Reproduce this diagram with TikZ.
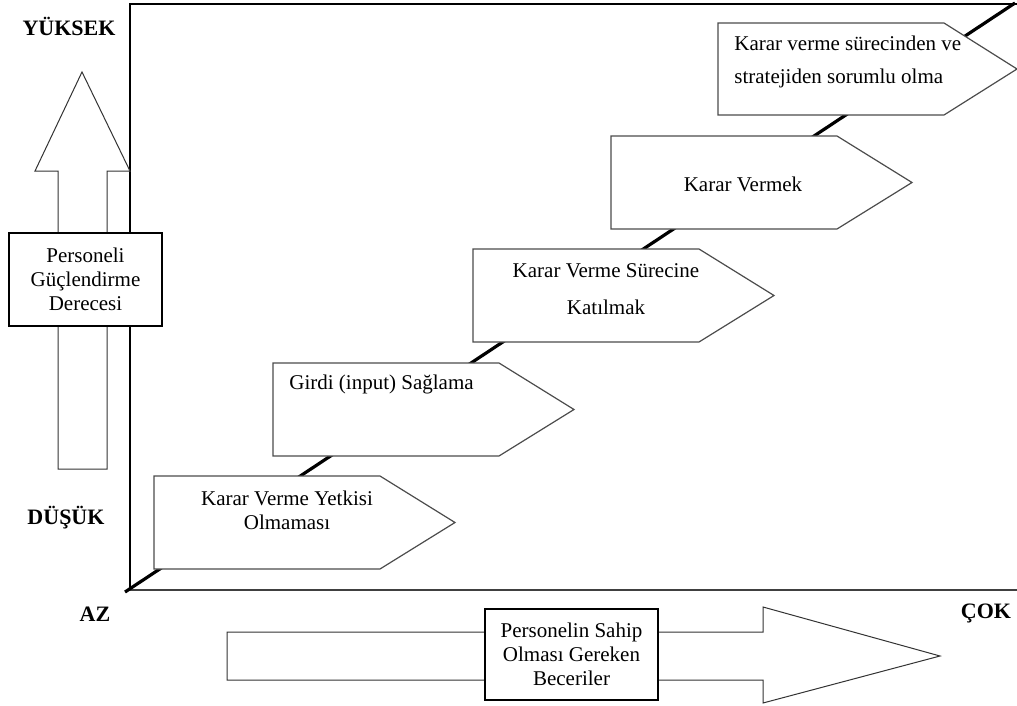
\documentclass[tikz,border=0pt]{standalone}
\usepackage{fontspec}
\setmainfont{Liberation Serif}
\usetikzlibrary{positioning}

\begin{document}
\begin{tikzpicture}[x=0.5pt, y=-0.5pt,
        every node/.style={font=\fontsize{10.5}{12}\selectfont, inner sep=0pt},
        stepbox/.style={draw=black!70, line width=0.6pt, fill=white},
        bigarrow/.style={draw=black!80, line width=0.5pt, fill=white},
        levelbox/.style={draw, line width=0.6pt, fill=white, align=center},
        axislabel/.style={font=\fontsize{11}{13}\selectfont\bfseries}]
        \useasboundingbox (0,0) rectangle (1017,706);

        \draw[line width=0.7pt] (1017,4) -- (130,4) -- (130,590);
        \draw[black!75, line width=1pt] (128,590) -- (1017,590);
        \draw[line width=1.6pt] (125,592) -- (1015,3);

        \draw[bigarrow] (58,469) -- (58,171) -- (35,171) -- (82,72) -- (130,171) -- (107,171) -- (107,469) -- cycle;
        \draw[bigarrow] (227,632) -- (763,632) -- (763,607) -- (940,656) -- (763,703) -- (763,680) -- (227,680) -- cycle;

        \draw[stepbox] (154,476) -- ++(226,0) -- ++(75,46.5) -- ++(-75,46.5) -- ++(-226,0) -- cycle;
        \draw[stepbox] (273,363) -- ++(226,0) -- ++(75,46.5) -- ++(-75,46.5) -- ++(-226,0) -- cycle;
        \draw[stepbox] (473,249) -- ++(226,0) -- ++(75,46.5) -- ++(-75,46.5) -- ++(-226,0) -- cycle;
        \draw[stepbox] (611,136) -- ++(226,0) -- ++(75,46.5) -- ++(-75,46.5) -- ++(-226,0) -- cycle;
        \draw[stepbox] (718,23) -- ++(226,0) -- ++(73,46) -- ++(-73,46) -- ++(-226,0) -- cycle;

        \node[align=center] (t1) at (287,510) {Karar Verme Yetkisi\\Olmaması};
        \node[anchor=west] (t2) at (289,384) {Girdi (input) Sağlama};
        \node[align=center] (t3) at (606,289) {Karar Verme Sürecine\\[6.5pt]Katılmak};
        \node (t4) at (743,184) {Karar Vermek};
        \node[anchor=west, align=left] (t5) at (734,62) {Karar verme sürecinden ve\\[4.5pt]stratejiden sorumlu olma};

        \node[levelbox, minimum width=76.5pt, minimum height=46.5pt] (guc) at (85.5,279.5) {Personeli\\Güçlendirme\\Derecesi};
        \node[levelbox, minimum width=86.5pt, minimum height=45.5pt] (beceri) at (571.5,654.5) {Personelin Sahip\\Olması Gereken\\Beceriler};

        \node[axislabel] (yuksek) at (69,26) {YÜKSEK};
        \node[axislabel] (dusuk) at (66,518) {DÜŞÜK};
        \node[axislabel] (az) at (95,614) {AZ};
        \node[axislabel] (cok) at (986,613) {ÇOK};
\end{tikzpicture}
\end{document}
